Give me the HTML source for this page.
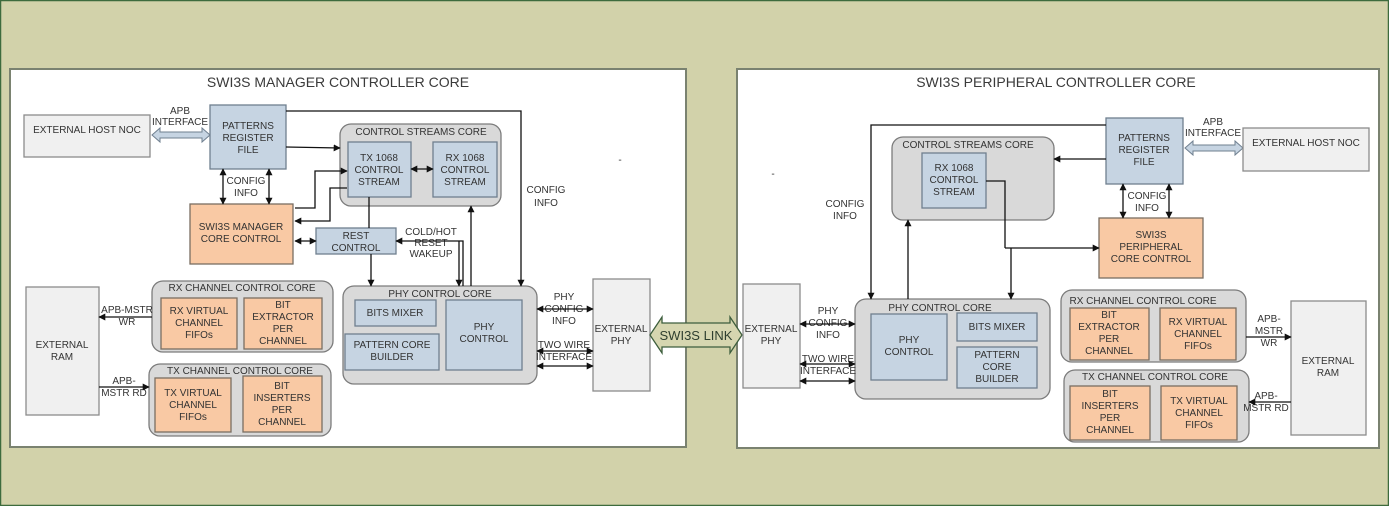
<!DOCTYPE html>
<html><head><meta charset="utf-8"><style>
html,body{margin:0;padding:0;background:#d2d2aa;}
svg{display:block;}
text{font-family:"Liberation Sans",sans-serif;fill:#333;font-size:10px;text-anchor:middle;}
.t{font-size:14px;fill:#3a3a3a;}
.b{fill:#c6d4e2;stroke:#6f7f8f;stroke-width:1.3;}
.o{fill:#f9c9a4;stroke:#7a6e62;stroke-width:1.3;}
.g{fill:#d9d9d9;stroke:#7c7c7c;stroke-width:1.3;}
.e{fill:#f0f0f0;stroke:#8c8c8c;stroke-width:1.3;}
.l{fill:none;stroke:#111;stroke-width:1.3;}
.d{fill:none;stroke:#111;stroke-width:1.3;marker-end:url(#a);marker-start:url(#a);}
.s{fill:none;stroke:#111;stroke-width:1.3;marker-end:url(#a);}
</style></head><body>
<svg width="1389" height="506" viewBox="0 0 1389 506" xmlns="http://www.w3.org/2000/svg">
<defs><marker id="a" viewBox="0 0 10 10" refX="9" refY="5" markerWidth="7" markerHeight="7" orient="auto-start-reverse" markerUnits="userSpaceOnUse"><path d="M0,0 L10,5 L0,10 z" fill="#111"/></marker></defs>
<rect x="0.5" y="0.5" width="1388" height="505" fill="#d2d2aa" stroke="#3d6b3d" stroke-width="1.5"/>
<rect x="10" y="69" width="676" height="378" fill="#fff" stroke="#7a8270" stroke-width="2"/>
<rect x="737" y="69" width="642" height="379" fill="#fff" stroke="#7a8270" stroke-width="2"/>
<text class="t" x="338" y="87">SWI3S MANAGER CONTROLLER CORE</text>
<text class="t" x="1056" y="87">SWI3S PERIPHERAL CONTROLLER CORE</text>
<text x="620" y="163">-</text><text x="773" y="177">-</text>

<!-- LEFT -->
<rect class="e" x="24" y="115" width="126" height="42"/><text x="87" y="133">EXTERNAL HOST NOC</text>
<path d="M152,135 l8,-7 v4 h42 v-4 l8,7 l-8,7 v-4 h-42 v4 z" fill="#c6d4e2" stroke="#6f7f8f"/>
<text x="180" y="114">APB</text><text x="180" y="125">INTERFACE</text>
<rect class="b" x="210" y="105" width="76" height="64"/><text x="248" y="129">PATTERNS</text><text x="248" y="141">REGISTER</text><text x="248" y="153">FILE</text>
<rect class="g" x="340" y="124" width="161" height="82" rx="11"/><text x="421" y="135">CONTROL STREAMS CORE</text>
<rect class="b" x="348" y="142" width="63" height="55"/><text x="379" y="161">TX 1068</text><text x="379" y="173">CONTROL</text><text x="379" y="185">STREAM</text>
<rect class="b" x="433" y="142" width="64" height="55"/><text x="465" y="161">RX 1068</text><text x="465" y="173">CONTROL</text><text x="465" y="185">STREAM</text>
<rect class="o" x="190" y="204" width="103" height="60"/><text x="241" y="230">SWI3S MANAGER</text><text x="241" y="242">CORE CONTROL</text>
<rect class="b" x="316" y="228" width="80" height="26"/><text x="356" y="239">REST</text><text x="356" y="251">CONTROL</text>
<text x="431" y="235">COLD/HOT</text><text x="431" y="246">RESET</text><text x="431" y="257">WAKEUP</text>
<text x="246" y="184">CONFIG</text><text x="246" y="196">INFO</text>
<text x="546" y="193">CONFIG</text><text x="546" y="206">INFO</text>
<rect class="g" x="343" y="286" width="194" height="98" rx="11"/><text x="440" y="297">PHY CONTROL CORE</text>
<rect class="b" x="355" y="300" width="81" height="26"/><text x="395" y="316">BITS MIXER</text>
<rect class="b" x="446" y="300" width="76" height="70"/><text x="484" y="330">PHY</text><text x="484" y="342">CONTROL</text>
<rect class="b" x="345" y="334" width="94" height="36"/><text x="392" y="348">PATTERN CORE</text><text x="392" y="360">BUILDER</text>
<rect class="g" x="152" y="281" width="181" height="71" rx="11"/><text x="242" y="291">RX CHANNEL CONTROL CORE</text>
<rect class="o" x="161" y="298" width="76" height="51"/><text x="199" y="314">RX VIRTUAL</text><text x="199" y="326">CHANNEL</text><text x="199" y="338">FIFOs</text>
<rect class="o" x="244" y="298" width="78" height="51"/><text x="283" y="308">BIT</text><text x="283" y="320">EXTRACTOR</text><text x="283" y="332">PER</text><text x="283" y="344">CHANNEL</text>
<rect class="g" x="149" y="364" width="182" height="72" rx="11"/><text x="240" y="374">TX CHANNEL CONTROL CORE</text>
<rect class="o" x="155" y="378" width="76" height="54"/><text x="193" y="396">TX VIRTUAL</text><text x="193" y="408">CHANNEL</text><text x="193" y="420">FIFOs</text>
<rect class="o" x="243" y="376" width="79" height="56"/><text x="282" y="389">BIT</text><text x="282" y="401">INSERTERS</text><text x="282" y="413">PER</text><text x="282" y="425">CHANNEL</text>
<rect class="e" x="26" y="287" width="73" height="128"/><text x="62" y="348">EXTERNAL</text><text x="62" y="360">RAM</text>
<rect class="e" x="593" y="279" width="57" height="112"/><text x="621" y="332">EXTERNAL</text><text x="621" y="344">PHY</text>
<text x="127" y="313">APB-MSTR</text><text x="127" y="325">WR</text>
<text x="124" y="384">APB-</text><text x="124" y="396">MSTR RD</text>
<text x="564" y="300">PHY</text><text x="564" y="312">CONFIG</text><text x="564" y="324">INFO</text>
<text x="564" y="348">TWO WIRE</text><text x="564" y="360">INTERFACE</text>
<path class="s" d="M286,111 H521 V286"/>
<path class="s" d="M286,147 L340,148"/>
<path class="s" d="M295,208 H315 V171 H347"/>
<path class="s" d="M347,188 H330 V221 H295"/>
<path class="d" d="M295,241 H316"/>
<path class="d" d="M411,169 H433"/>
<path class="l" d="M369,197 V228"/>
<path class="s" d="M371,254 V286"/>
<path class="s" d="M459,241 V286"/>
<path class="s" d="M463,286 V241 H396"/>
<path class="s" d="M471,286 V206"/>
<path class="d" d="M223,169 V204"/><path class="d" d="M269,169 V204"/>
<path class="s" d="M152,317 H99"/>
<path class="s" d="M99,387 H149"/>
<path class="d" d="M537,309 H593"/><path class="d" d="M537,351 H593"/><path class="d" d="M537,366 H593"/>

<!-- LINK -->
<path d="M650,335 l12,-18 v6 h68 v-6 l12,18 l-12,18 v-6 h-68 v6 z" fill="#d6d6b0" stroke="#3d5e3d" stroke-width="1.3"/>
<text x="696" y="340" style="font-size:13px;fill:#2f3f2f">SWI3S LINK</text>

<!-- RIGHT -->
<rect class="b" x="1106" y="118" width="77" height="66"/><text x="1144" y="141">PATTERNS</text><text x="1144" y="153">REGISTER</text><text x="1144" y="165">FILE</text>
<path d="M1185,148 l8,-7 v4 h42 v-4 l8,7 l-8,7 v-4 h-42 v4 z" fill="#c6d4e2" stroke="#6f7f8f"/>
<text x="1213" y="125">APB</text><text x="1213" y="136">INTERFACE</text>
<rect class="e" x="1243" y="128" width="126" height="43"/><text x="1306" y="146">EXTERNAL HOST NOC</text>
<rect class="g" x="892" y="137" width="162" height="83" rx="11"/><text x="968" y="148">CONTROL STREAMS CORE</text>
<rect class="b" x="922" y="153" width="64" height="55"/><text x="954" y="171">RX 1068</text><text x="954" y="183">CONTROL</text><text x="954" y="195">STREAM</text>
<rect class="o" x="1099" y="218" width="104" height="60"/><text x="1151" y="238">SWI3S</text><text x="1151" y="250">PERIPHERAL</text><text x="1151" y="262">CORE CONTROL</text>
<text x="1147" y="199">CONFIG</text><text x="1147" y="211">INFO</text>
<text x="845" y="207">CONFIG</text><text x="845" y="219">INFO</text>
<rect class="g" x="855" y="299" width="195" height="100" rx="11"/><text x="940" y="311">PHY CONTROL CORE</text>
<rect class="b" x="871" y="314" width="76" height="66"/><text x="909" y="343">PHY</text><text x="909" y="355">CONTROL</text>
<rect class="b" x="957" y="313" width="80" height="28"/><text x="997" y="330">BITS MIXER</text>
<rect class="b" x="957" y="347" width="80" height="41"/><text x="997" y="358">PATTERN</text><text x="997" y="370">CORE</text><text x="997" y="382">BUILDER</text>
<rect class="e" x="743" y="284" width="57" height="104"/><text x="771" y="332">EXTERNAL</text><text x="771" y="344">PHY</text>
<text x="828" y="314">PHY</text><text x="828" y="326">CONFIG</text><text x="828" y="338">INFO</text>
<text x="828" y="362">TWO WIRE</text><text x="828" y="374">INTERFACE</text>
<rect class="g" x="1061" y="290" width="185" height="72" rx="11"/><text x="1143" y="304">RX CHANNEL CONTROL CORE</text>
<rect class="o" x="1070" y="308" width="79" height="52"/><text x="1109" y="318">BIT</text><text x="1109" y="330">EXTRACTOR</text><text x="1109" y="342">PER</text><text x="1109" y="354">CHANNEL</text>
<rect class="o" x="1160" y="308" width="76" height="52"/><text x="1198" y="325">RX VIRTUAL</text><text x="1198" y="337">CHANNEL</text><text x="1198" y="349">FIFOs</text>
<rect class="g" x="1064" y="370" width="185" height="72" rx="11"/><text x="1155" y="380">TX CHANNEL CONTROL CORE</text>
<rect class="o" x="1070" y="386" width="80" height="54"/><text x="1110" y="397">BIT</text><text x="1110" y="409">INSERTERS</text><text x="1110" y="421">PER</text><text x="1110" y="433">CHANNEL</text>
<rect class="o" x="1161" y="386" width="76" height="54"/><text x="1199" y="404">TX VIRTUAL</text><text x="1199" y="416">CHANNEL</text><text x="1199" y="428">FIFOs</text>
<rect class="e" x="1291" y="301" width="75" height="134"/><text x="1328" y="364">EXTERNAL</text><text x="1328" y="376">RAM</text>
<text x="1269" y="322">APB-</text><text x="1269" y="334">MSTR</text><text x="1269" y="346">WR</text>
<text x="1266" y="399">APB-</text><text x="1266" y="411">MSTR RD</text>
<path class="s" d="M1106,125 H871 V299"/>
<path class="s" d="M1106,159 H1054"/>
<path class="l" d="M986,181 H1005 V248"/>
<path class="s" d="M1005,248 H1099"/>
<path class="s" d="M1011,248 V299"/>
<path class="s" d="M908,299 V220"/>
<path class="d" d="M1123,184 V218"/><path class="d" d="M1169,184 V218"/>
<path class="d" d="M800,324 H855"/><path class="d" d="M800,364 H855"/><path class="d" d="M800,381 H855"/>
<path class="s" d="M1246,337 H1291"/>
<path class="s" d="M1291,402 H1249"/>
</svg>
</body></html>
